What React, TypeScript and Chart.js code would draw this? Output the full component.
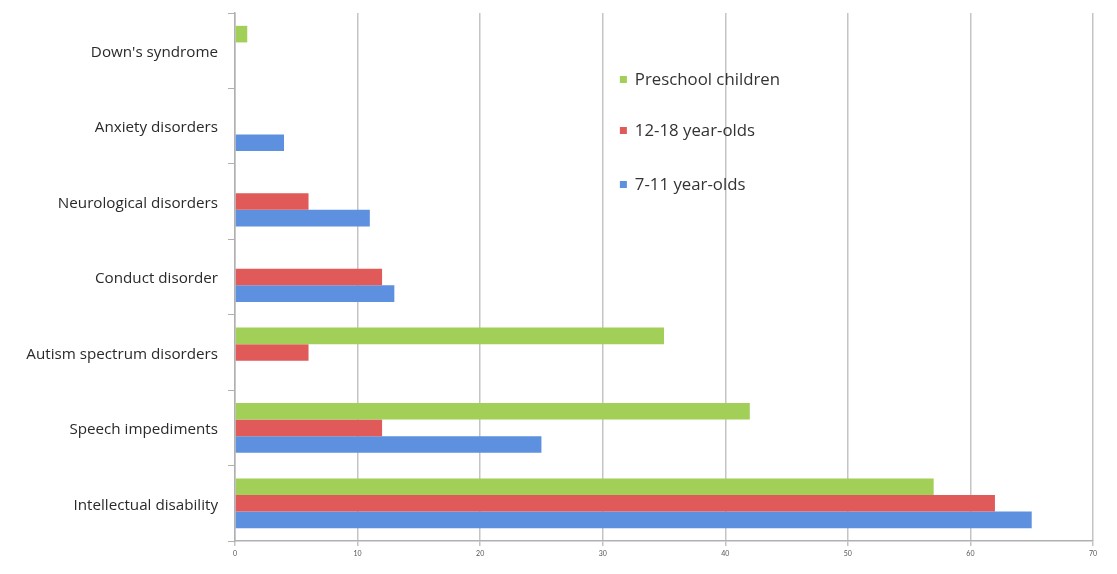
import React, { useEffect, useRef } from "react";
import { Chart, registerables } from "chart.js";

Chart.register(...registerables);

const categories = [
  "Down's syndrome",
  "Anxiety disorders",
  "Neurological disorders",
  "Conduct disorder",
  "Autism spectrum disorders",
  "Speech impediments",
  "Intellectual disability",
];
const seriesNames = ["Preschool children", "12-18 year-olds", "7-11 year-olds"];
const preschool = [1, null, null, null, 35, 42, 57];
const teens = [null, null, 6, 12, 6, 12, 62];
const kids = [null, 4, 11, 13, null, 25, 65];
const xTicks = [0, 10, 20, 30, 40, 50, 60, 70];

const colors = ["#a2cf57", "#e05a5a", "#5d90df"];

const legendPlugin = {
  id: "insideLegend",
  afterDraw(chart: any) {
    const ctx = chart.ctx;
    const x = chart.scales.x;
    const left = x.getPixelForValue(31.4);
    const tops = [80, 131, 185];
    ctx.save();
    chart.data.datasets.forEach((ds: any, i: number) => {
      const y = tops[i];
      ctx.fillStyle = colors[i];
      ctx.fillRect(left, y - 4, 7, 7);
      ctx.fillStyle = "#333";
      ctx.font = "16.8px 'Open Sans'";
      ctx.textBaseline = "middle";
      ctx.textAlign = "left";
      ctx.fillText(ds.label, left + 15, y);
    });
    ctx.restore();
  },
};

export default function App() {
  const ref = useRef<HTMLCanvasElement>(null);
  useEffect(() => {
    const series = [preschool, teens, kids];
    const chart = new Chart(ref.current!, {
      type: "bar",
      data: {
        labels: categories,
        datasets: series.map((d, i) => ({
          label: seriesNames[i],
          data: d,
          backgroundColor: colors[i],
          borderWidth: 0,
          categoryPercentage: 0.66,
          barPercentage: 1,
        })),
      },
      options: {
        indexAxis: "y",
        animation: false,
        responsive: false,
        maintainAspectRatio: false,
        layout: { padding: { top: 13, right: 24, left: 0, bottom: 0 } },
        plugins: { legend: { display: false }, tooltip: { enabled: false } },
        scales: {
          x: {
            min: 0,
            max: 70,
            afterBuildTicks: (s: any) => {
              s.ticks = xTicks.map((v) => ({ value: v }));
            },
            afterFit: (s: any) => {
              s.height = 33;
              s.paddingLeft = 0;
              s.paddingRight = 0;
            },
            grid: {
              color: "#c4c4c4",
              lineWidth: 1.5,
              tickLength: 5,
              drawTicks: true,
            },
            border: { color: "#b0b0b0", width: 1.5 },
            ticks: {
              font: { size: 7, family: "Lato" },
              color: "#555",
              padding: 4,
            },
          },
          y: {
            afterFit: (s: any) => {
              s.width = 235;
              s.paddingTop = 0;
              s.paddingBottom = 0;
            },
            grid: {
              drawOnChartArea: false,
              offset: true,
              tickLength: 7,
              color: "#b0b0b0",
            },
            border: { color: "#b0b0b0", width: 1.5 },
            ticks: {
              font: { size: 15.2, family: "'Open Sans'" },
              color: "#2a2a2a",
              padding: 10,
              labelOffset: 2,
            },
          },
        },
      },
      plugins: [legendPlugin],
    } as any);
    return () => chart.destroy();
  }, []);
  return (
    <div style={{ position: "absolute", left: 0, top: 0, width: 1117, height: 574, background: "#fff" }}>
      <canvas ref={ref} width={1117} height={574} style={{ width: 1117, height: 574 }} />
    </div>
  );
}
